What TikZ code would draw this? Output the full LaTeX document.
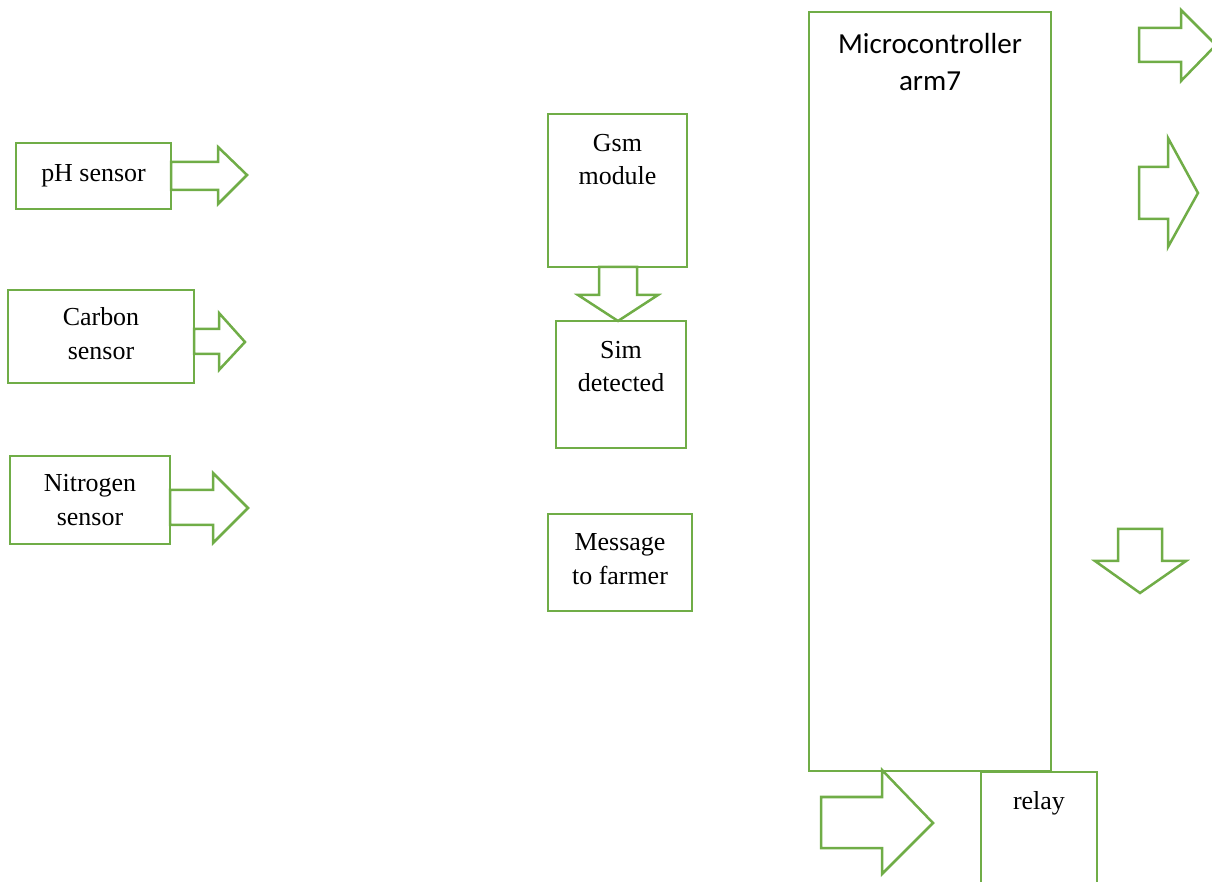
\documentclass[tikz,border=0pt]{standalone}
\usepackage{fontspec}
\setmainfont{Liberation Serif}
\newfontfamily\calibri{Carlito}
\definecolor{boxgreen}{RGB}{112,173,71}
\tikzset{
  box/.style={draw=boxgreen,line width=1.2bp,rectangle,inner sep=0pt,outer sep=0pt,
    font=\fontsize{12.5}{16.3}\selectfont,align=center},
  lbl/.style={inner sep=0pt,font=\fontsize{12.5}{16.3}\selectfont,align=center},
  blk/.style={draw=boxgreen,line width=1.2bp,line join=miter,fill=white},
}
\begin{document}
\begin{tikzpicture}[x=0.48bp,y=-0.48bp]
\useasboundingbox (0,0) rectangle (1212,882);
%%
\node (ph) at (93.5,176) [box,minimum width=74.4bp,minimum height=31.7bp] {pH sensor};
  \node (carbon) at (101,336.5) [box,minimum width=89.3bp,minimum height=44.6bp] {};
  \node (nitro) at (90,500) [box,minimum width=76.8bp,minimum height=42.2bp] {Nitrogen\\sensor};
  \node (gsm) at (617.5,190.5) [box,minimum width=66.7bp,minimum height=73.4bp] {};
  \node (sim) at (621,384.5) [box,minimum width=62.4bp,minimum height=61bp] {};
  \node (msg) at (620,562.5) [box,minimum width=69.1bp,minimum height=46.6bp] {};
  \node (mcu) at (930,391.5) [box,minimum width=116.2bp,minimum height=364.3bp] {};
  \node (relay) at (1039,836) [box,minimum width=55.7bp,minimum height=61.4bp] {};
  \node (carbontxt) at (101,333.5) [lbl] {Carbon\\sensor};
  \node (msgtxt) at (620,559) [lbl] {Message\\to farmer};
  \node (gsmtxt) at (617.5,159.5) [lbl] {Gsm\\module};
  \node (simtxt) at (621,366.5) [lbl] {Sim\\detected};
  \node (mcutxt) at (930,62) [lbl,font=\calibri\fontsize{14}{18.2}\selectfont] {Microcontroller\\arm7};
  \node (relaytxt) at (1039,803) [lbl] {relay};
%
  \draw [blk] (171,162) -- (218,162) -- (218,147) -- (247,175) -- (218,204) -- (218,190) -- (171,190) -- cycle;
  \draw [blk] (194,329) -- (219,329) -- (219,313) -- (245,342) -- (219,370) -- (219,354) -- (194,354) -- cycle;
  \draw [blk] (170,490) -- (213,490) -- (213,473) -- (248,508) -- (213,543) -- (213,525) -- (170,525) -- cycle;
  \draw [blk] (599,267) -- (599,295) -- (578,295) -- (618,321) -- (658,295) -- (637,295) -- (637,267) -- cycle;
  \draw [blk] (1139,28) -- (1181,28) -- (1181,10) -- (1216,45) -- (1181,81) -- (1181,62) -- (1139,62) -- cycle;
  \draw [blk] (1139,167) -- (1168,167) -- (1168,138) -- (1198,193) -- (1168,247) -- (1168,219) -- (1139,219) -- cycle;
  \draw [blk] (1118,529) -- (1162,529) -- (1162,561) -- (1186,561) -- (1140,593) -- (1095,561) -- (1118,561) -- cycle;
  \draw [blk] (821,797) -- (882,797) -- (882,770) -- (933,823) -- (882,874) -- (882,848) -- (821,848) -- cycle;
%
\end{tikzpicture}
\end{document}
